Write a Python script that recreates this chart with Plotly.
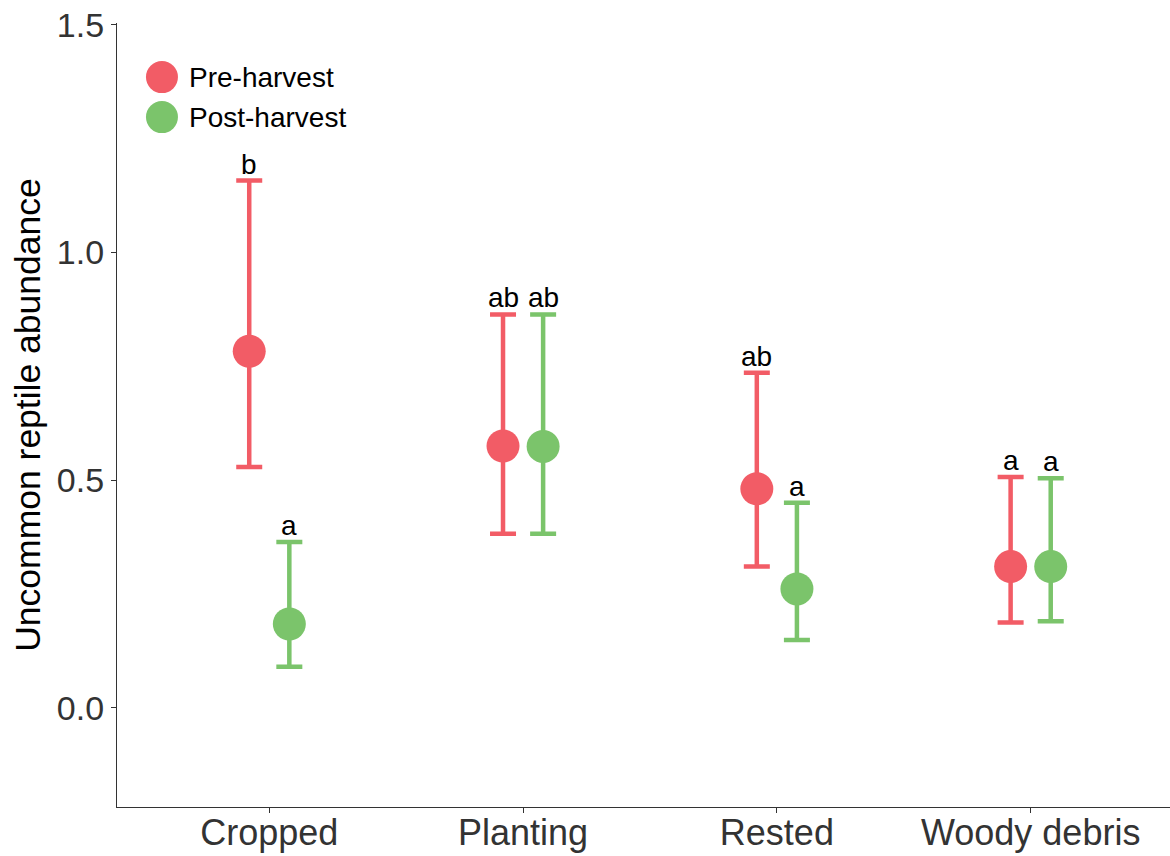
import plotly.graph_objects as go

categories = ["Cropped", "Planting", "Rested", "Woody debris"]
series_names = ["Pre-harvest", "Post-harvest"]

pre_mean = [0.783, 0.575, 0.481, 0.310]
pre_upper = [1.158, 0.864, 0.736, 0.507]
pre_lower = [0.529, 0.382, 0.310, 0.187]
pre_letters = ["b", "ab", "ab", "a"]

post_mean = [0.184, 0.574, 0.261, 0.310]
post_upper = [0.364, 0.864, 0.450, 0.504]
post_lower = [0.090, 0.382, 0.149, 0.190]
post_letters = ["a", "ab", "a", "a"]

y_ticks = [0.0, 0.5, 1.0, 1.5]
y_tick_labels = ["0.0", "0.5", "1.0", "1.5"]

colors = ["#F25C66", "#7BC46B"]
FONT = "Liberation Sans, Arial, sans-serif"

fig = go.Figure()

series = [
    (pre_mean, pre_upper, pre_lower, pre_letters),
    (post_mean, post_upper, post_lower, post_letters),
]

for i, (mean, up, lo, letters) in enumerate(series):
    fig.add_trace(go.Scatter(
        x=categories,
        y=mean,
        name=series_names[i],
        mode="markers",
        offsetgroup=str(i),
        marker=dict(size=33, color=colors[i], line=dict(width=0)),
        error_y=dict(
            type="data",
            symmetric=False,
            array=[u - m for u, m in zip(up, mean)],
            arrayminus=[m - l for m, l in zip(mean, lo)],
            color=colors[i],
            thickness=4.5,
            width=13,
        ),
        showlegend=False,
    ))

dodge_px = 20
for i, (mean, up, lo, letters) in enumerate(series):
    shift = -dodge_px if i == 0 else dodge_px
    for j, cat in enumerate(categories):
        fig.add_annotation(
            x=j, y=up[j], xref="x", yref="y",
            text=letters[j], showarrow=False,
            xanchor="center", yanchor="bottom",
            xshift=shift, yshift=-1,
            font=dict(family=FONT, size=28, color="black"),
        )

# manual legend (large symbols like the reference)
legend_y = [0.931, 0.880]
for i, name in enumerate(series_names):
    fig.add_shape(
        type="circle", xref="paper", yref="paper",
        xsizemode="pixel", ysizemode="pixel",
        xanchor=0.0427, yanchor=legend_y[i],
        x0=-16, x1=16, y0=-16, y1=16,
        fillcolor=colors[i], line=dict(width=0),
    )
    fig.add_annotation(
        x=0.0665, y=legend_y[i], xref="paper", yref="paper",
        text=name, showarrow=False, xanchor="left", yanchor="middle",
        font=dict(family=FONT, size=28, color="black"),
    )

fig.update_layout(
    width=1170, height=856,
    margin=dict(l=117, r=0, t=23, b=49),
    paper_bgcolor="white", plot_bgcolor="white",
    scattermode="group", scattergap=0.684,
    font=dict(family=FONT, color="#333333"),
    xaxis=dict(
        type="category",
        range=[-0.6, 3.549],
        automargin=False,
        showline=True, linecolor="#333333", linewidth=1.3,
        ticks="outside", ticklen=5, tickcolor="#333333", tickwidth=1,
        tickfont=dict(family=FONT, size=36, color="#333333"),
        ticklabelstandoff=-11,
        ticklabeloverflow="allow",
        showgrid=False, zeroline=False,
    ),
    yaxis=dict(
        range=[-0.218, 1.504],
        automargin=False,
        tickvals=y_ticks, ticktext=y_tick_labels,
        showline=True, linecolor="#333333", linewidth=1.3,
        ticks="outside", ticklen=5, tickcolor="#333333", tickwidth=1,
        tickfont=dict(family=FONT, size=34, color="#333333"),
        ticklabeloverflow="allow",
        showgrid=False, zeroline=False,
        title=dict(text="Uncommon reptile abundance",
                   font=dict(family=FONT, size=35.5, color="black"),
                   standoff=5),
    ),
)

# remove the browser's default 8px body margin so the figure sits at (0, 0)
fig.write_html(
    "out.html",
    config={"displayModeBar": False},
    post_script="document.body.style.margin='0';"
                "document.documentElement.style.overflow='hidden';",
)
